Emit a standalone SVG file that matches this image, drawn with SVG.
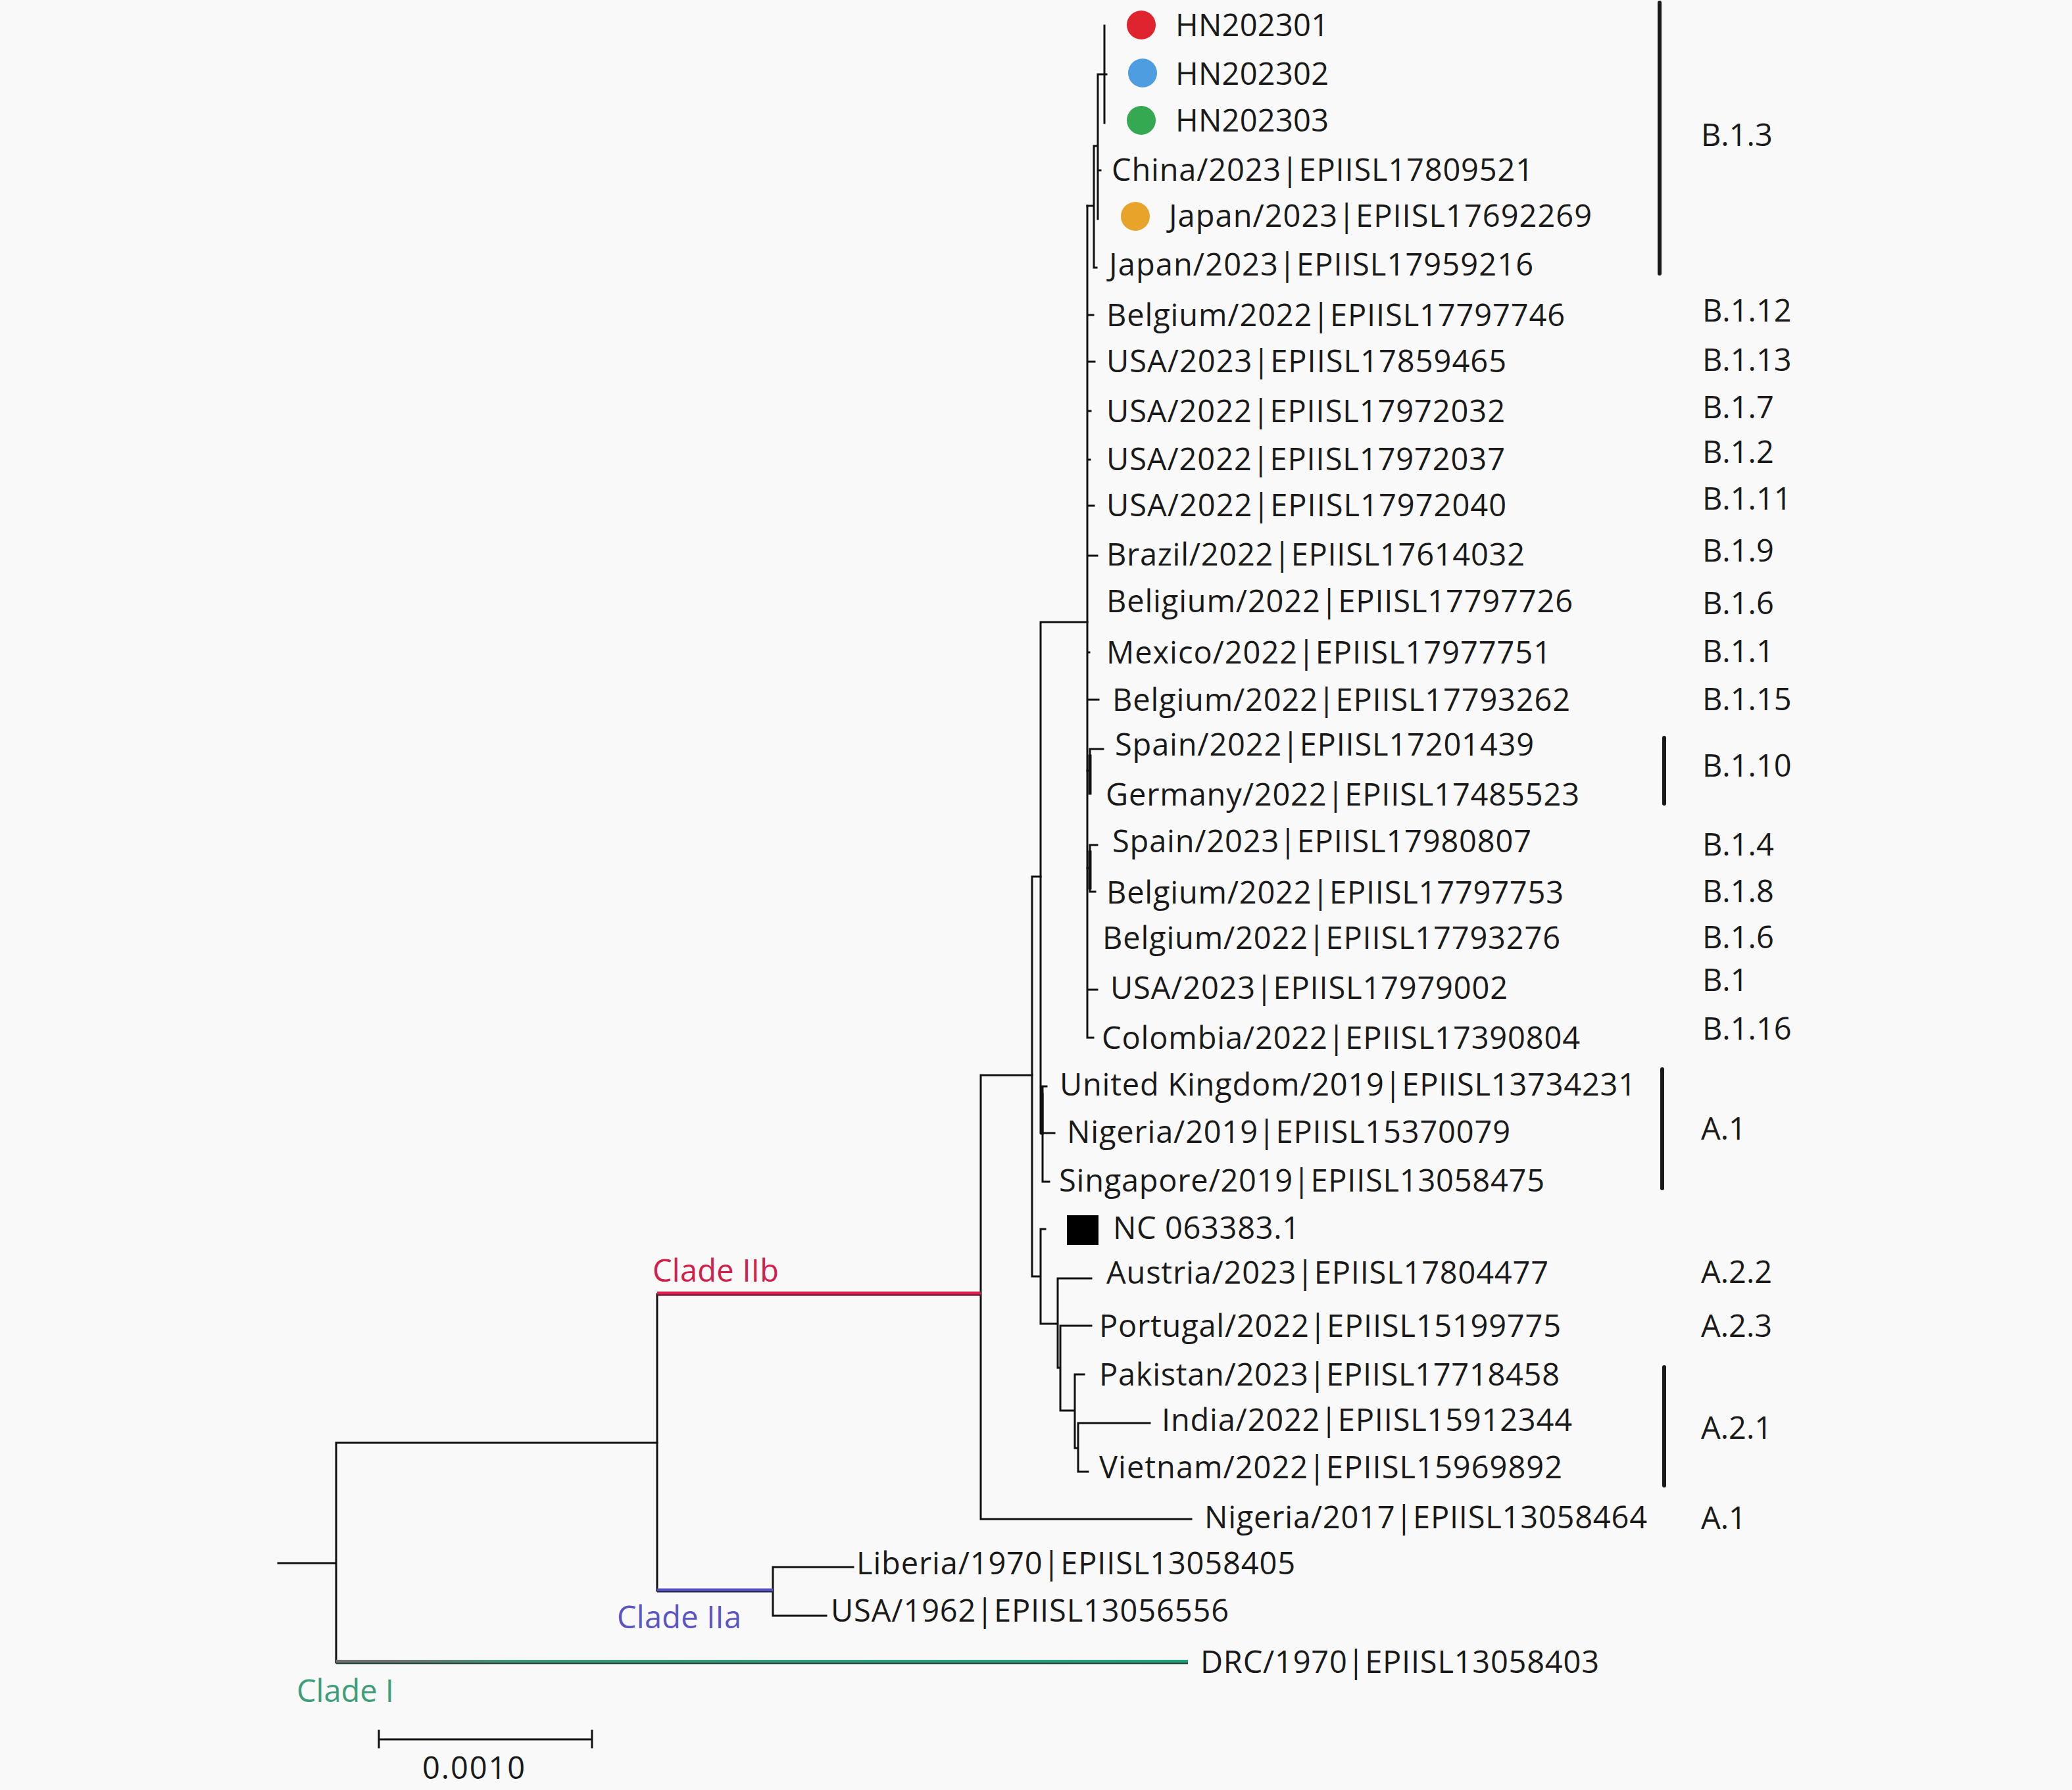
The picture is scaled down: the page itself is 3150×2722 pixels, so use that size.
<svg xmlns="http://www.w3.org/2000/svg" width="3150" height="2722" viewBox="0 0 3150 2722">
<defs>
<style>
.t{font-family:"Open Sans","Liberation Sans",sans-serif;font-size:47px;fill:#1a1a1a}
.lab{font-family:"Open Sans","Liberation Sans",sans-serif;font-size:47px;fill:#1a1a1a}
.br{fill:none;stroke:#111;stroke-width:3;stroke-linecap:square}
.bar{stroke:#1a1a1a;stroke-width:6;stroke-linecap:round}
.clade{font-family:"Open Sans","Liberation Sans",sans-serif;font-size:47px}
</style>
<linearGradient id="gI" gradientUnits="userSpaceOnUse" x1="511" y1="0" x2="1806" y2="0">
<stop offset="0" stop-color="#6e6e6e"/>
<stop offset="0.07" stop-color="#707070"/>
<stop offset="0.2" stop-color="#3f9479"/>
<stop offset="1" stop-color="#22a07a"/>
</linearGradient>
</defs>
<rect x="0" y="0" width="3150" height="2722" fill="#f9f9f9"/>

<g id="connectors">
<path class="br" d="M1679 39V187M1669 113H1682M1669 113V333M1669 259H1673M1663 222H1669M1663 222V407M1663 407H1667M1653 313H1663"/>
<path class="br" d="M1653 313V1578M1653 479H1662M1653 550H1664M1653 625H1658M1653 699H1657M1653 769H1663M1653 845H1668M1653 992H1656M1653 1064H1670M1653 1505H1668M1653 1578H1662"/>
<path class="br" d="M1653 1172H1657M1657 1139V1206M1657 1139H1677"/>
<path class="br" style="stroke-width:5" d="M1657 1150V1206"/>
<path class="br" d="M1653 1320H1657M1657 1285V1356M1657 1285H1668M1657 1356H1665"/>
<path class="br" style="stroke-width:5" d="M1657 1296V1350"/>
<path class="br" d="M1582 946H1653M1582 946V1723M1582 1723H1603M1585 1652V1797M1585 1652H1591M1585 1797H1595"/>
<path class="br" style="stroke-width:5" d="M1584 1665V1723"/>
<path class="br" d="M1569 1333H1582M1569 1333V1941M1569 1941H1582M1582 1869V2013M1582 1869H1589M1582 2013H1608M1608 1944V2080M1608 1944H1659M1608 2080H1612M1612 2016V2145M1612 2016H1659M1612 2145H1634M1634 2090V2202M1634 2090H1648M1634 2202H1639M1639 2164V2238M1639 2164H1748M1639 2238H1654"/>
<path class="br" d="M1491 1635H1569M1491 1635V2310M1491 2310H1811"/>
<path class="br" d="M999 1968V2419M1175 2383V2457M1175 2383H1297M1175 2457H1256"/>
<path class="br" d="M423 2377H511M511 2194V2528M511 2194H999"/>
<line x1="999" y1="1967" x2="1491" y2="1967" stroke="#d81f4e" stroke-width="6"/>
<line x1="999" y1="1969.5" x2="1491" y2="1969.5" stroke="#5a0f22" stroke-width="2"/>
<line x1="999" y1="2418" x2="1175" y2="2418" stroke="#5553c4" stroke-width="5"/>
<line x1="999" y1="2420.5" x2="1175" y2="2420.5" stroke="#23234a" stroke-width="2"/>
<line x1="511" y1="2527" x2="1806" y2="2527" stroke="url(#gI)" stroke-width="6"/>
<line x1="511" y1="2529.5" x2="1806" y2="2529.5" stroke="#1c3a32" stroke-width="2"/>
</g>

<g id="clade-labels">
<text class="clade" x="992" y="1949" fill="#d3204a" textLength="192">Clade IIb</text>
<text class="clade" x="938" y="2476" fill="#5a55c0" textLength="189">Clade IIa</text>
<text class="clade" x="451" y="2588" fill="#3e9e7a" textLength="148">Clade I</text>
</g>

<g id="scale-bar">
<path class="br" d="M576 2645H900M576 2632V2657M900 2632V2657"/>
<text class="t" x="720" y="2705" text-anchor="middle" textLength="156">0.0010</text>
</g>

<g id="leaf-HN202301"><circle cx="1735" cy="38" r="22" fill="#e0242f"/><text class="t" x="1787" y="55" textLength="233">HN202301</text></g>
<g id="leaf-HN202302"><circle cx="1737" cy="111" r="22" fill="#4d9de0"/><text class="t" x="1787" y="129" textLength="233">HN202302</text></g>
<g id="leaf-HN202303"><circle cx="1735" cy="183" r="22" fill="#35a852"/><text class="t" x="1787" y="200" textLength="233">HN202303</text></g>
<g id="leaf-China-2023"><text class="t" x="1690" y="275" textLength="641">China/2023|EPIISL17809521</text></g>
<g id="leaf-Japan-2023a"><circle cx="1726" cy="329" r="22" fill="#e8a42a"/><text class="t" x="1777" y="345" textLength="643">Japan/2023|EPIISL17692269</text></g>
<g id="leaf-Japan-2023b"><text class="t" x="1686" y="419" textLength="645">Japan/2023|EPIISL17959216</text></g>
<g id="leaf-Belgium-17797746"><text class="t" x="1682" y="496" textLength="697">Belgium/2022|EPIISL17797746</text></g>
<g id="leaf-USA-17859465"><text class="t" x="1682" y="566" textLength="608">USA/2023|EPIISL17859465</text></g>
<g id="leaf-USA-17972032"><text class="t" x="1682" y="642" textLength="606">USA/2022|EPIISL17972032</text></g>
<g id="leaf-USA-17972037"><text class="t" x="1682" y="715" textLength="606">USA/2022|EPIISL17972037</text></g>
<g id="leaf-USA-17972040"><text class="t" x="1682" y="785" textLength="608">USA/2022|EPIISL17972040</text></g>
<g id="leaf-Brazil-17614032"><text class="t" x="1682" y="860" textLength="636">Brazil/2022|EPIISL17614032</text></g>
<g id="leaf-Beligium-17797726"><text class="t" x="1682" y="931" textLength="709">Beligium/2022|EPIISL17797726</text></g>
<g id="leaf-Mexico-17977751"><text class="t" x="1682" y="1009" textLength="676">Mexico/2022|EPIISL17977751</text></g>
<g id="leaf-Belgium-17793262"><text class="t" x="1691" y="1081" textLength="696">Belgium/2022|EPIISL17793262</text></g>
<g id="leaf-Spain-17201439"><text class="t" x="1695" y="1149" textLength="637">Spain/2022|EPIISL17201439</text></g>
<g id="leaf-Germany-17485523"><text class="t" x="1681" y="1225" textLength="720">Germany/2022|EPIISL17485523</text></g>
<g id="leaf-Spain-17980807"><text class="t" x="1691" y="1296" textLength="637">Spain/2023|EPIISL17980807</text></g>
<g id="leaf-Belgium-17797753"><text class="t" x="1682" y="1374" textLength="695">Belgium/2022|EPIISL17797753</text></g>
<g id="leaf-Belgium-17793276"><text class="t" x="1676" y="1443" textLength="696">Belgium/2022|EPIISL17793276</text></g>
<g id="leaf-USA-17979002"><text class="t" x="1688" y="1519" textLength="604">USA/2023|EPIISL17979002</text></g>
<g id="leaf-Colombia-17390804"><text class="t" x="1675" y="1595" textLength="727">Colombia/2022|EPIISL17390804</text></g>
<g id="leaf-UK-13734231"><text class="t" x="1611" y="1666" textLength="876">United Kingdom/2019|EPIISL13734231</text></g>
<g id="leaf-Nigeria-15370079"><text class="t" x="1622" y="1738" textLength="674">Nigeria/2019|EPIISL15370079</text></g>
<g id="leaf-Singapore-13058475"><text class="t" x="1610" y="1812" textLength="738">Singapore/2019|EPIISL13058475</text></g>
<g id="leaf-NC063383"><rect x="1622" y="1848" width="48" height="45" fill="#000"/><text class="t" x="1692" y="1884" textLength="284">NC 063383.1</text></g>
<g id="leaf-Austria-17804477"><text class="t" x="1682" y="1952" textLength="672">Austria/2023|EPIISL17804477</text></g>
<g id="leaf-Portugal-15199775"><text class="t" x="1671" y="2033" textLength="702">Portugal/2022|EPIISL15199775</text></g>
<g id="leaf-Pakistan-17718458"><text class="t" x="1671" y="2107" textLength="700">Pakistan/2023|EPIISL17718458</text></g>
<g id="leaf-India-15912344"><text class="t" x="1766" y="2176" textLength="624">India/2022|EPIISL15912344</text></g>
<g id="leaf-Vietnam-15969892"><text class="t" x="1671" y="2248" textLength="704">Vietnam/2022|EPIISL15969892</text></g>
<g id="leaf-Nigeria-13058464"><text class="t" x="1831" y="2324" textLength="673">Nigeria/2017|EPIISL13058464</text></g>
<g id="leaf-Liberia-13058405"><text class="t" x="1302" y="2394" textLength="667">Liberia/1970|EPIISL13058405</text></g>
<g id="leaf-USA-13056556"><text class="t" x="1263" y="2466" textLength="605">USA/1962|EPIISL13056556</text></g>
<g id="leaf-DRC-13058403"><text class="t" x="1825" y="2544" textLength="606">DRC/1970|EPIISL13058403</text></g>

<g id="lineage-bars">
<line class="bar" x1="2523" y1="4" x2="2523" y2="416"/>
<line class="bar" x1="2530" y1="1122" x2="2530" y2="1222"/>
<line class="bar" x1="2527" y1="1626" x2="2527" y2="1807"/>
<line class="bar" x1="2530" y1="2079" x2="2530" y2="2259"/>
</g>

<g id="lineage-labels">
<text class="lab" x="2586" y="222">B.1.3</text>
<text class="lab" x="2588" y="489">B.1.12</text>
<text class="lab" x="2588" y="564">B.1.13</text>
<text class="lab" x="2588" y="636">B.1.7</text>
<text class="lab" x="2588" y="704">B.1.2</text>
<text class="lab" x="2588" y="775">B.1.11</text>
<text class="lab" x="2588" y="854">B.1.9</text>
<text class="lab" x="2588" y="934">B.1.6</text>
<text class="lab" x="2588" y="1007">B.1.1</text>
<text class="lab" x="2588" y="1080">B.1.15</text>
<text class="lab" x="2588" y="1181">B.1.10</text>
<text class="lab" x="2588" y="1301">B.1.4</text>
<text class="lab" x="2588" y="1372">B.1.8</text>
<text class="lab" x="2588" y="1442">B.1.6</text>
<text class="lab" x="2588" y="1507">B.1</text>
<text class="lab" x="2588" y="1581">B.1.16</text>
<text class="lab" x="2586" y="1733">A.1</text>
<text class="lab" x="2586" y="1951">A.2.2</text>
<text class="lab" x="2586" y="2033">A.2.3</text>
<text class="lab" x="2586" y="2188">A.2.1</text>
<text class="lab" x="2586" y="2325">A.1</text>
</g>
</svg>
